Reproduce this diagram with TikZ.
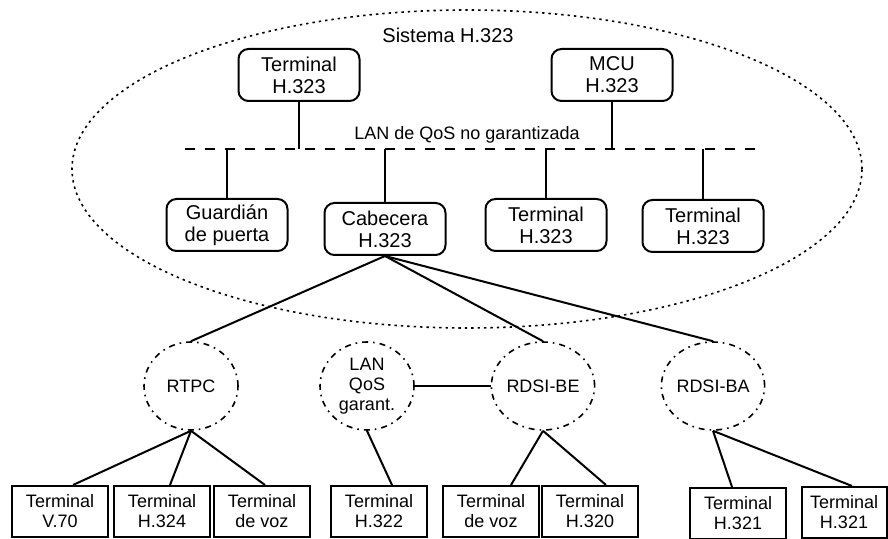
\documentclass[tikz,border=0pt]{standalone}
\usepackage{fontspec}
\setmainfont{Liberation Sans}
\usetikzlibrary{shapes.geometric}

\tikzset{
	rbox/.style={draw,line width=1pt,rounded corners=5pt,minimum width=60.5pt,minimum height=26pt,align=center,inner sep=1pt,font=\fontsize{10}{11}\selectfont},
	tbox/.style={draw,line width=1pt,minimum width=48pt,minimum height=25.5pt,align=center,inner sep=1pt,font=\fontsize{9}{10}\selectfont},
	net/.style={draw,ellipse,line width=0.8pt,dash pattern=on 3pt off 2.5pt on 0.8pt off 2.5pt,minimum width=47pt,minimum height=44pt,align=center,inner sep=0pt,font=\fontsize{9}{10}\selectfont},
	link/.style={line width=1pt}
}

\begin{document}
\begin{tikzpicture}[x=0.5pt,y=-0.5pt]
	\useasboundingbox (0,0) rectangle (888,539);
	\draw[line width=0.8pt,dash pattern=on 1.2pt off 2pt] (467,169) ellipse [x radius=197.5pt,y radius=79.5pt];
	\node[font=\fontsize{10}{11}\selectfont] (sis) at (448,35) {Sistema H.323};
	\node[rbox] (t1) at (299,75) {Terminal\\H.323};
	\node[rbox] (mcu) at (612,75) {MCU\\H.323};
	\node[font=\fontsize{9}{10}\selectfont] (lan) at (467,135) {LAN de QoS no garantizada};
	\coordinate (busL) at (185,149);
	\coordinate (busR) at (758,149);
	\draw[link,dash pattern=on 5pt off 5pt] (busL) -- (busR);
	\node[rbox] (gk) at (227,225) {Guardián\\de puerta};
	\node[rbox] (gw) at (385,229) {Cabecera\\H.323};
	\node[rbox] (t2) at (546,225) {Terminal\\H.323};
	\node[rbox] (t3) at (703,226) {Terminal\\H.323};
	\foreach \n in {t1,mcu}
		\draw[link] (\n.south) -- (\n.south |- busL);
	\foreach \n in {gk,gw,t2,t3}
		\draw[link] (\n.north |- busL) -- (\n.north);
	
	\node[net] (rtpc) at (191,386) {RTPC};
	\node[net] (lanq) at (367,386) {LAN\\QoS\\garant.};
	\node[net] (be) at (543,386) {RDSI-BE};
	\node[net] (ba) at (713,386) {RDSI-BA};
	\foreach \n in {rtpc,be,ba}
		\draw[link] (gw.south) -- (\n.north);
	\draw[link] (lanq.east) -- (be.west);
	
	\foreach \n/\x/\t in {tv/60/V.70,th4/162/H.324,tva/262/de voz,th2/379/H.322,tvb/491/de voz,th0/590/H.320}
		\node[tbox] (\n) at (\x,511.5) {Terminal\\\t};
	\node[tbox] (th1) at (738,513.5) {Terminal\\H.321};
	\node[tbox,minimum width=42.5pt] (th1b) at (844,512.5) {Terminal\\H.321};
	\draw[link] (rtpc.south) -- ([xshift=6.5pt]tv.north);
	\draw[link] (rtpc.south) -- ([xshift=4pt]th4.north);
	\draw[link] (rtpc.south) -- ([xshift=1.5pt]tva.north);
	\draw[link] (lanq.south) -- ([xshift=6.5pt]th2.north);
	\draw[link] (be.south) -- ([xshift=10pt]tvb.north);
	\draw[link] (be.south) -- ([xshift=8pt]th0.north);
	\draw[link] (ba.south) -- ([xshift=-3pt]th1.north);
	\draw[link] (ba.south) -- ([xshift=4pt]th1b.north);
\end{tikzpicture}
\end{document}
